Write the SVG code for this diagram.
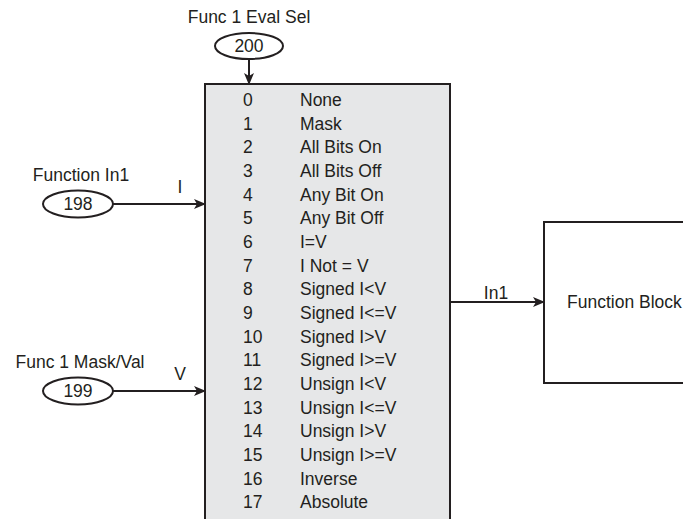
<svg xmlns="http://www.w3.org/2000/svg" width="683" height="519" viewBox="0 0 683 519">
<style>
text{font-family:"Liberation Sans",Arial,sans-serif;font-size:17.5px;fill:#231f20}
.b{stroke:#231f20;stroke-width:2;fill:none}
.c{stroke:#231f20;stroke-width:2;fill:none}
.m{text-anchor:middle}
</style>
<defs>
<marker id="ah" markerWidth="12" markerHeight="10" refX="11" refY="5" orient="auto" markerUnits="userSpaceOnUse">
<path d="M0,0 L12,5 L0,10 L3,5 Z" fill="#231f20"/>
</marker>
</defs>
<g id="connectors">
<line class="c" x1="249" y1="59" x2="249" y2="84" marker-end="url(#ah)"/>
<line class="c" x1="113" y1="204" x2="205" y2="204" marker-end="url(#ah)"/>
<line class="c" x1="113" y1="391" x2="205" y2="391" marker-end="url(#ah)"/>
<line class="c" x1="450" y1="302" x2="544" y2="302" marker-end="url(#ah)"/>
<text x="180" y="193" class="m">I</text>
<text x="180" y="380" class="m">V</text>
<text x="496" y="299" class="m">In1</text>
</g>
<g id="evalsel">
<text x="249" y="23" class="m">Func 1 Eval Sel</text>
<ellipse class="b" cx="249" cy="46" rx="34" ry="13"/>
<text x="249" y="52" class="m">200</text>
</g>
<g id="in1">
<text x="81" y="181" class="m">Function In1</text>
<ellipse class="b" cx="78" cy="204" rx="35" ry="13.5"/>
<text x="78" y="210" class="m">198</text>
</g>
<g id="maskval">
<text x="80" y="368" class="m">Func 1 Mask/Val</text>
<ellipse class="b" cx="78" cy="391" rx="35" ry="13.5"/>
<text x="78" y="397" class="m">199</text>
</g>
<g id="selector">
<rect x="205" y="84" width="245" height="450" fill="#e6e7e8" stroke="#231f20" stroke-width="2"/>
<text x="243" y="106">0</text><text x="300" y="106">None</text>
<text x="243" y="129.6">1</text><text x="300" y="129.6">Mask</text>
<text x="243" y="153.3">2</text><text x="300" y="153.3">All Bits On</text>
<text x="243" y="177">3</text><text x="300" y="177">All Bits Off</text>
<text x="243" y="200.6">4</text><text x="300" y="200.6">Any Bit On</text>
<text x="243" y="224.3">5</text><text x="300" y="224.3">Any Bit Off</text>
<text x="243" y="248">6</text><text x="300" y="248">I=V</text>
<text x="243" y="271.6">7</text><text x="300" y="271.6">I Not = V</text>
<text x="243" y="295.3">8</text><text x="300" y="295.3">Signed I&lt;V</text>
<text x="243" y="319">9</text><text x="300" y="319">Signed I&lt;=V</text>
<text x="243" y="342.6">10</text><text x="300" y="342.6">Signed I&gt;V</text>
<text x="243" y="366.3">11</text><text x="300" y="366.3">Signed I&gt;=V</text>
<text x="243" y="390">12</text><text x="300" y="390">Unsign I&lt;V</text>
<text x="243" y="413.6">13</text><text x="300" y="413.6">Unsign I&lt;=V</text>
<text x="243" y="437.3">14</text><text x="300" y="437.3">Unsign I&gt;V</text>
<text x="243" y="461">15</text><text x="300" y="461">Unsign I&gt;=V</text>
<text x="243" y="484.6">16</text><text x="300" y="484.6">Inverse</text>
<text x="243" y="508.3">17</text><text x="300" y="508.3">Absolute</text>
</g>
<g id="functionblock">
<rect x="544" y="222" width="160" height="161" fill="#fff" stroke="#231f20" stroke-width="2"/>
<text x="567" y="308">Function Block</text>
</g>
</svg>
